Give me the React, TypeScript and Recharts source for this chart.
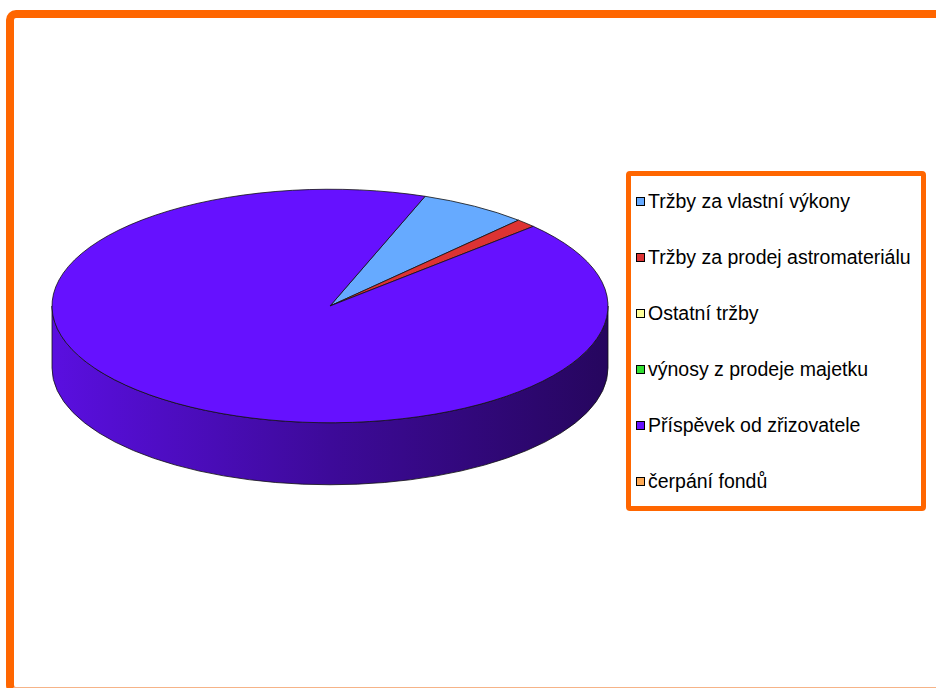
import React from "react";
import { PieChart, Pie, Cell, Legend } from "recharts";

const categories = [
  "Tržby za vlastní výkony",
  "Tržby za prodej astromateriálu",
  "Ostatní tržby",
  "výnosy z prodeje majetku",
  "Příspěvek od zřizovatele",
  "čerpání fondů",
];
const shares = [6.3, 1.2, 0, 0, 92.5, 0];
const colors = ["#66aaff", "#dd3333", "#ffff99", "#33dd33", "#6611ff", "#ffaa55"];

const data = categories.map((name, i) => ({ name, value: shares[i] }));

const RAD = Math.PI / 180;
const TILT = 0.42;
const DEPTH = 62;

function shade(hex: string, f: number) {
  const n = parseInt(hex.slice(1), 16);
  const c = [(n >> 16) & 255, (n >> 8) & 255, n & 255].map((v) => Math.round(v * f));
  return "#" + c.map((v) => v.toString(16).padStart(2, "0")).join("");
}

function Slice3D(props: any) {
  const { cx, cy, outerRadius, startAngle, endAngle, fill, index } = props;
  if (Math.abs(startAngle - endAngle) < 1e-6) return <g />;
  const rx = outerRadius;
  const ry = outerRadius * TILT;
  const pt = (a: number, dy = 0) =>
    `${cx + rx * Math.cos(a * RAD)},${cy - ry * Math.sin(a * RAD) + dy}`;
  const hi = Math.max(startAngle, endAngle);
  const lo = Math.min(startAngle, endAngle);
  const large = hi - lo > 180 ? 1 : 0;
  const top = `M${cx},${cy} L${pt(hi)} A${rx},${ry} 0 ${large} 1 ${pt(lo)} Z`;

  // front facing part of the rim (angles between 180 and 360)
  const sides: string[] = [];
  for (let k = -2; k <= 1; k++) {
    const a = Math.min(hi, 360 * k);
    const b = Math.max(lo, 360 * k - 180);
    if (a - b > 0.01) {
      sides.push(
        `M${pt(a)} A${rx},${ry} 0 0 1 ${pt(b)} L${pt(b, DEPTH)} A${rx},${ry} 0 0 0 ${pt(a, DEPTH)} Z`
      );
    }
  }
  const gid = `rim-${index}`;
  return (
    <g>
      <defs>
        <linearGradient id={gid} gradientUnits="userSpaceOnUse" x1={cx - rx} y1={0} x2={cx + rx} y2={0}>
          <stop offset="0%" stopColor={shade(fill, 0.88)} />
          <stop offset="50%" stopColor={shade(fill, 0.6)} />
          <stop offset="100%" stopColor={shade(fill, 0.37)} />
        </linearGradient>
      </defs>
      {sides.map((d, i) => (
        <path key={i} d={d} fill={`url(#${gid})`} stroke="#111" strokeWidth={0.8} />
      ))}
      <path d={top} fill={fill} stroke="#111" strokeWidth={0.8} />
    </g>
  );
}

function LegendBox() {
  return (
    <div style={{ paddingTop: 15, paddingLeft: 5 }}>
      {categories.map((name, i) => (
        <div
          key={name}
          style={{
            display: "flex",
            alignItems: "center",
            height: 20,
            marginBottom: 36,
            fontFamily: "'Liberation Sans', Arial, sans-serif",
            fontSize: 19.5,
            color: "#000",
            whiteSpace: "nowrap",
          }}
        >
          <span
            style={{
              display: "inline-block",
              width: 7,
              height: 7,
              border: "1.5px solid #000",
              background: colors[i],
              marginRight: 3,
            }}
          />
          {name}
        </div>
      ))}
    </div>
  );
}

export default function App() {
  return (
    <div style={{ position: "fixed", left: 0, top: 0, width: 936, height: 688, overflow: "hidden", background: "#fff" }}>
      <div
        style={{
          position: "absolute",
          left: 6,
          top: 10,
          width: 960,
          height: 669,
          border: "8px solid #ff6600",
          borderBottomColor: "#f6b387",
          borderRadius: 10,
        }}
      />
      <div style={{ position: "absolute", left: 0, top: 0 }}>
        <PieChart width={936} height={688} margin={{ top: 0, right: 0, bottom: 0, left: 0 }}>
          <Pie
            data={data}
            dataKey="value"
            nameKey="name"
            cx={330}
            cy={306}
            outerRadius={278}
            startAngle={70}
            endAngle={-290}
            stroke="none"
            shape={Slice3D}
            isAnimationActive={false}
          >
            {data.map((d, i) => (
              <Cell key={d.name} fill={colors[i]} />
            ))}
          </Pie>
          <Legend
            content={<LegendBox />}
            wrapperStyle={{
              left: 626,
              top: 171,
              width: 300,
              height: 340,
              border: "5px solid #ff6600",
              borderRadius: 4,
              boxSizing: "border-box",
              background: "#fff",
            }}
          />
        </PieChart>
      </div>
    </div>
  );
}
